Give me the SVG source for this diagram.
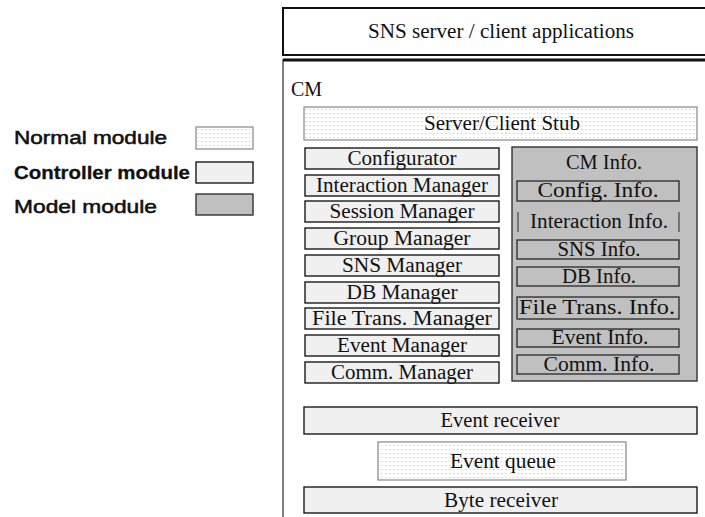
<svg xmlns="http://www.w3.org/2000/svg" width="705" height="517" viewBox="0 0 705 517">
<defs>
<pattern id="dots" width="4" height="4" patternUnits="userSpaceOnUse">
<rect width="4" height="4" fill="#ffffff"/>
<rect x="1" y="1" width="1.5" height="1" fill="#d2d2d2"/>
</pattern>
<style>
.t{font-family:"Liberation Serif","Times New Roman",serif;font-size:20px;fill:#111;text-anchor:middle}
.lg{font-family:"Liberation Sans",Arial,sans-serif;font-size:19px;fill:#111;stroke:#111;stroke-width:0.55}
.normal{fill:url(#dots);stroke:#888;stroke-width:1.2}
.ctrl{fill:#f0f0f0;stroke:#1a1a1a;stroke-width:1.4}
.model{fill:#c0c0c0;stroke:#333;stroke-width:1.4}
.frame{fill:#fff;stroke:#111;stroke-width:2}
</style>
</defs>
<rect width="705" height="517" fill="#fff"/>

<g id="legend">
<text class="lg" x="14" y="144" textLength="153" lengthAdjust="spacingAndGlyphs">Normal module</text>
<rect class="normal" x="196" y="127" width="57" height="22"/>
<text class="lg" x="14" y="179" textLength="176" lengthAdjust="spacingAndGlyphs" font-weight="bold" style="stroke-width:0.3">Controller module</text>
<rect class="ctrl" x="196" y="162" width="57" height="21"/>
<text class="lg" x="14" y="213" textLength="143" lengthAdjust="spacingAndGlyphs">Model module</text>
<rect class="model" x="196" y="194" width="57" height="21" stroke="#666"/>
</g>

<g id="apps">
<rect class="frame" x="283" y="8" width="440" height="47"/>
<text class="t" x="501" y="38" textLength="266" lengthAdjust="spacingAndGlyphs">SNS server / client applications</text>
</g>

<g id="cm">
<rect x="283" y="60" width="440" height="480" fill="#fff" stroke="#555" stroke-width="1.5"/>
<line x1="283" y1="60" x2="705" y2="60" stroke="#111" stroke-width="3"/>
<text class="t" x="291" y="96" style="text-anchor:start">CM</text>
</g>

<g id="stub">
<rect class="normal" x="304" y="107" width="393" height="33" stroke="#222"/>
<text class="t" x="502" y="130" textLength="156" lengthAdjust="spacingAndGlyphs">Server/Client Stub</text>
</g>

<g id="configurator"><rect class="ctrl" x="305" y="148" width="194" height="21"/><text class="t" x="402" y="165" textLength="109" lengthAdjust="spacingAndGlyphs">Configurator</text></g>
<g id="interaction-manager"><rect class="ctrl" x="305" y="175" width="194" height="21"/><text class="t" x="402" y="192" textLength="172" lengthAdjust="spacingAndGlyphs">Interaction Manager</text></g>
<g id="session-manager"><rect class="ctrl" x="305" y="201" width="194" height="21"/><text class="t" x="402" y="218" textLength="145" lengthAdjust="spacingAndGlyphs">Session Manager</text></g>
<g id="group-manager"><rect class="ctrl" x="305" y="228" width="194" height="21"/><text class="t" x="402" y="245" textLength="137" lengthAdjust="spacingAndGlyphs">Group Manager</text></g>
<g id="sns-manager"><rect class="ctrl" x="305" y="255" width="194" height="21"/><text class="t" x="402" y="272" textLength="120" lengthAdjust="spacingAndGlyphs">SNS Manager</text></g>
<g id="db-manager"><rect class="ctrl" x="305" y="282" width="194" height="21"/><text class="t" x="402" y="299" textLength="111" lengthAdjust="spacingAndGlyphs">DB Manager</text></g>
<g id="file-trans-manager"><rect class="ctrl" x="305" y="308" width="194" height="21"/><text class="t" x="402" y="325" textLength="180" lengthAdjust="spacingAndGlyphs">File Trans. Manager</text></g>
<g id="event-manager"><rect class="ctrl" x="305" y="335" width="194" height="21"/><text class="t" x="402" y="352" textLength="130" lengthAdjust="spacingAndGlyphs">Event Manager</text></g>
<g id="comm-manager"><rect class="ctrl" x="305" y="362" width="194" height="21"/><text class="t" x="402" y="379" textLength="142" lengthAdjust="spacingAndGlyphs">Comm. Manager</text></g>

<g id="cm-info">
<rect class="model" x="512" y="147" width="185" height="234" stroke="#222" stroke-width="2"/>
<text class="t" x="604" y="169" textLength="76" lengthAdjust="spacingAndGlyphs">CM Info.</text>
</g>
<g id="config-info"><rect class="model" x="517" y="181" width="162" height="20"/><text class="t" x="598" y="197" textLength="121" lengthAdjust="spacingAndGlyphs">Config. Info.</text></g>
<g id="interaction-info"><line x1="518" y1="212" x2="518" y2="232" stroke="#555" stroke-width="1.4"/><line x1="679" y1="212" x2="679" y2="232" stroke="#555" stroke-width="1.4"/><text class="t" x="599" y="228" textLength="138" lengthAdjust="spacingAndGlyphs">Interaction Info.</text></g>
<g id="sns-info"><rect class="model" x="517" y="240" width="162" height="19"/><text class="t" x="599" y="256" textLength="83" lengthAdjust="spacingAndGlyphs">SNS Info.</text></g>
<g id="db-info"><rect class="model" x="517" y="267" width="162" height="19"/><text class="t" x="599" y="283" textLength="74" lengthAdjust="spacingAndGlyphs">DB Info.</text></g>
<g id="file-trans-info"><rect class="model" x="517" y="297" width="162" height="22"/><text class="t" x="597" y="314" textLength="156" lengthAdjust="spacingAndGlyphs">File Trans. Info.</text></g>
<g id="event-info"><rect class="model" x="517" y="329" width="162" height="18"/><text class="t" x="600" y="344" textLength="97" lengthAdjust="spacingAndGlyphs">Event Info.</text></g>
<g id="comm-info"><rect class="model" x="517" y="355" width="162" height="19" stroke="#111" stroke-width="1.8"/><text class="t" x="599" y="371" textLength="111" lengthAdjust="spacingAndGlyphs">Comm. Info.</text></g>

<g id="event-receiver"><rect class="ctrl" x="304" y="407" width="393" height="27"/><text class="t" x="500" y="427" textLength="119" lengthAdjust="spacingAndGlyphs">Event receiver</text></g>
<g id="event-queue"><rect class="normal" x="378" y="442" width="248" height="38" stroke="#666"/><text class="t" x="503" y="468" textLength="106" lengthAdjust="spacingAndGlyphs">Event queue</text></g>
<g id="byte-receiver"><rect class="ctrl" x="304" y="487" width="393" height="26"/><text class="t" x="501" y="507" textLength="114" lengthAdjust="spacingAndGlyphs">Byte receiver</text></g>

<g id="connectors"></g>
</svg>
